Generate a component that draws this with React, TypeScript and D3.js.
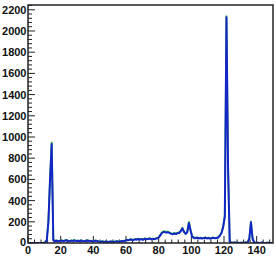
import React from "react";
import * as d3 from "d3";

const blue: number[] = [
  0, 0, 0, 0, 0, 0, 0, 0, 0, 1,
  5, 25, 200, 600, 935, 25, 18, 22, 15, 20,
  24, 17, 21, 26, 19, 16, 22, 20, 25, 18,
  21, 17, 23, 19, 16, 21, 24, 18, 20, 15,
  19, 22, 17, 14, 12, 15, 10, 13, 11, 9,
  14, 12, 10, 13, 16, 12, 15, 18, 17, 22,
  28, 25, 32, 30, 27, 35, 31, 38, 33, 36,
  30, 40, 35, 37, 42, 34, 39, 36, 42, 45,
  60, 85, 100, 105, 98, 102, 95, 88, 82, 90,
  84, 92, 95, 110, 138, 105, 85, 100, 188, 120,
  60, 48, 45, 50, 44, 48, 42, 46, 50, 43,
  47, 41, 45, 49, 44, 48, 52, 70, 95, 150,
  250, 2130, 700, 10, 3, 2, 4, 2, 3, 1,
  2, 3, 2, 4, 5, 40, 195, 40, 5, 2,
  3, 1, 2, 4, 2, 1, 3, 2, 1, 0,
];

const green: number[] = [
  0, 0, 0, 0, 0, 0, 0, 0, 1, 2,
  8, 30, 210, 610, 950, 28, 20, 25, 17, 22,
  26, 19, 24, 28, 21, 18, 25, 22, 27, 20,
  23, 19, 25, 21, 18, 23, 26, 20, 22, 17,
  21, 24, 19, 16, 14, 17, 12, 15, 13, 11,
  16, 14, 12, 15, 18, 14, 17, 20, 19, 25,
  32, 28, 36, 33, 30, 38, 35, 42, 37, 40,
  34, 44, 38, 40, 46, 37, 42, 39, 45, 49,
  65, 90, 108, 112, 104, 108, 100, 93, 87, 95,
  90, 97, 100, 115, 145, 110, 90, 106, 198, 125,
  64, 52, 48, 54, 47, 51, 45, 49, 53, 46,
  50, 44, 48, 52, 47, 51, 56, 74, 100, 158,
  260, 2140, 710, 12, 4, 3, 5, 3, 4, 2,
  3, 4, 3, 5, 6, 44, 202, 44, 6, 3,
  4, 2, 3, 5, 3, 2, 4, 3, 2, 1,
];

const xTickLabels = [0, 20, 40, 60, 80, 100, 120, 140];
const yTickLabels = [0, 200, 400, 600, 800, 1000, 1200, 1400, 1600, 1800, 2000, 2200];

const W = 276;
const H = 263;
const L = 28, R = 273, T = 5, B = 243;

export default function App() {
  const x = d3.scaleLinear().domain([0, 150]).range([L, R]);
  const y = d3.scaleLinear().domain([0, 2245]).range([B, T]);
  const binW = 1;
  const line = d3
    .line<number>()
    .x((_, i) => x(i * binW + binW / 2))
    .y((d) => y(d));

  const xMinor = d3.range(0, 150, 4).filter((v) => v % 20 !== 0);
  const yMinor = d3.range(0, 2245, 40).filter((v) => v % 200 !== 0);
  const font = "'Liberation Sans', Arial, sans-serif";

  return (
    <svg
      width={W}
      height={H}
      style={{ position: "absolute", left: 0, top: 0, background: "#fff" }}
    >
      <defs>
        <clipPath id="plot">
          <rect x={L} y={T} width={R - L} height={B - T} />
        </clipPath>
      </defs>
      <g stroke="#222" strokeWidth={1}>
        {yTickLabels.map((v) => (
          <line key={"ym" + v} x1={L} x2={L + 7} y1={y(v)} y2={y(v)} />
        ))}
        {yMinor.map((v) => (
          <line key={"yn" + v} x1={L} x2={L + 4} y1={y(v)} y2={y(v)} />
        ))}
        {xTickLabels.map((v) => (
          <line key={"xm" + v} x1={x(v)} x2={x(v)} y1={B} y2={B - 7} />
        ))}
        {xMinor.map((v) => (
          <line key={"xn" + v} x1={x(v)} x2={x(v)} y1={B} y2={B - 3.5} />
        ))}
      </g>
      <g clipPath="url(#plot)" fill="none" strokeLinejoin="round">
        <path d={line(green) || ""} stroke="#3cc03c" strokeWidth={1.8} />
        <path d={line(blue) || ""} stroke="#1426c8" strokeWidth={2} />
      </g>
      <rect
        x={L}
        y={T}
        width={R - L}
        height={B - T}
        fill="none"
        stroke="#222"
        strokeWidth={1.5}
      />
      <g fontFamily={font} fontWeight="bold" fontSize={11} fill="#111">
        {yTickLabels.map((v) => (
          <text
            key={"yl" + v}
            x={v === 0 ? L - 2 : L - 1.5}
            y={v === 0 ? y(v) - 1 : y(v)}
            textAnchor="end"
            dominantBaseline="central"
          >
            {v}
          </text>
        ))}
        {xTickLabels.map((v) => (
          <text key={"xl" + v} x={x(v)} y={254} textAnchor="middle">
            {v}
          </text>
        ))}
      </g>
    </svg>
  );
}
